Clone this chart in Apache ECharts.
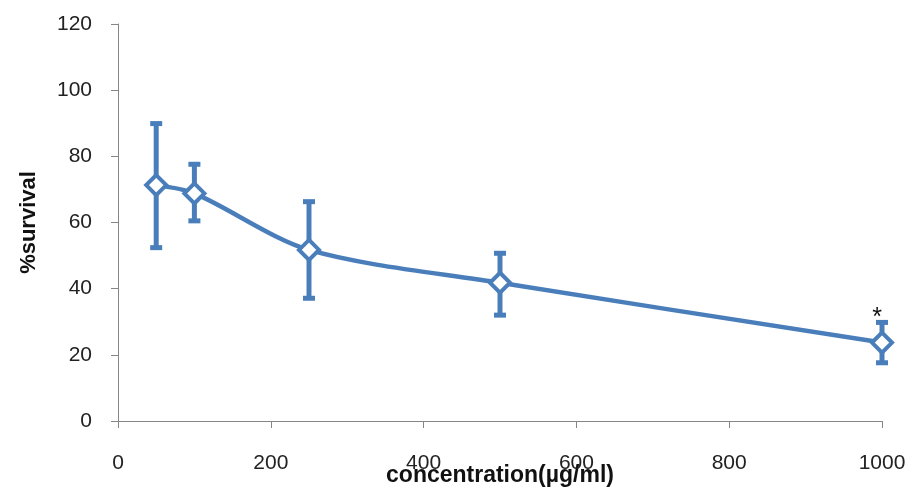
<!DOCTYPE html>
<html>
<head>
<meta charset="utf-8">
<script src="https://cdn.jsdelivr.net/npm/echarts@6/dist/echarts.min.js"></script>
<style>
  html, body { margin: 0; padding: 0; background: #fff; }
  #chart { width: 914px; height: 490px; }
</style>
</head>
<body>
<div id="chart"></div>
<script>
// Concentration (µg/ml) and percent survival with error bar limits
var concentrations = [50, 100, 250, 500, 1000];
var survival = [71.3, 68.8, 51.7, 41.8, 23.7];
var errUpper = [89.9, 77.6, 66.3, 50.7, 29.8];
var errLower = [52.4, 60.5, 37.1, 32.0, 17.6];
var significance = ['', '', '', '', '*'];
var yTicks = [0, 20, 40, 60, 80, 100, 120];
var xTicks = [0, 200, 400, 600, 800, 1000];

var blue = '#4a7ebb';
var font = 'Liberation Sans, Noto Sans, sans-serif';

var lineData = concentrations.map(function (c, i) { return [c, survival[i]]; });
var barData = concentrations.map(function (c, i) { return [c, errLower[i], errUpper[i], significance[i]]; });

var chart = echarts.init(document.getElementById('chart'));
chart.setOption({
  animation: false,
  grid: { left: 118, right: 32, top: 24, bottom: 69, containLabel: false, outerBoundsMode: 'none' },
  xAxis: {
    type: 'value', min: xTicks[0], max: xTicks[xTicks.length - 1], interval: 200,
    name: 'concentration(µg/ml)', nameLocation: 'middle', nameGap: 43, nameMoveOverlap: false,
    nameTextStyle: { fontFamily: font, fontSize: 23, fontWeight: 'bold', color: '#111' },
    axisLine: { lineStyle: { color: '#868686', width: 1 } },
    axisTick: { show: true, length: 7, lineStyle: { color: '#868686' } },
    axisLabel: { fontFamily: font, fontSize: 21, color: '#222', margin: 32,
                 formatter: function (v) { return String(v); } },
    splitLine: { show: false }
  },
  yAxis: {
    type: 'value', min: yTicks[0], max: yTicks[yTicks.length - 1], interval: 20,
    name: '%survival', nameLocation: 'middle', nameGap: 78, nameMoveOverlap: false,
    nameTextStyle: { fontFamily: font, fontSize: 22, fontWeight: 'bold', color: '#111' },
    axisLine: { show: true, lineStyle: { color: '#868686', width: 1 } },
    axisTick: { show: true, length: 7, lineStyle: { color: '#868686' } },
    axisLabel: { fontFamily: font, fontSize: 21, color: '#222', margin: 26 },
    splitLine: { show: false }
  },
  series: [
    {
      type: 'line',
      data: lineData,
      smooth: 0.3,
      symbol: 'diamond',
      symbolSize: 20,
      itemStyle: { color: '#fff', borderColor: blue, borderWidth: 4 },
      lineStyle: { color: blue, width: 4.5 },
      z: 3
    },
    {
      type: 'custom',
      data: barData,
      z: 2,
      renderItem: function (params, api) {
        var x = api.value(0);
        var lo = api.coord([x, api.value(1)]);
        var hi = api.coord([x, api.value(2)]);
        var half = 6;
        var style = { stroke: blue, lineWidth: 5 };
        var children = [
          { type: 'line', shape: { x1: lo[0], y1: lo[1], x2: hi[0], y2: hi[1] }, style: style },
          { type: 'line', shape: { x1: hi[0] - half, y1: hi[1], x2: hi[0] + half, y2: hi[1] }, style: style },
          { type: 'line', shape: { x1: lo[0] - half, y1: lo[1], x2: lo[0] + half, y2: lo[1] }, style: style }
        ];
        var mark = barData[params.dataIndex][3];
        if (mark) {
          children.push({
            type: 'text',
            style: { text: mark, x: hi[0] - 5, y: hi[1] - 4, textAlign: 'center', textVerticalAlign: 'middle',
                     fontFamily: font, fontSize: 25, fill: '#111' }
          });
        }
        return { type: 'group', children: children };
      }
    }
  ]
});
</script>
</body>
</html>
